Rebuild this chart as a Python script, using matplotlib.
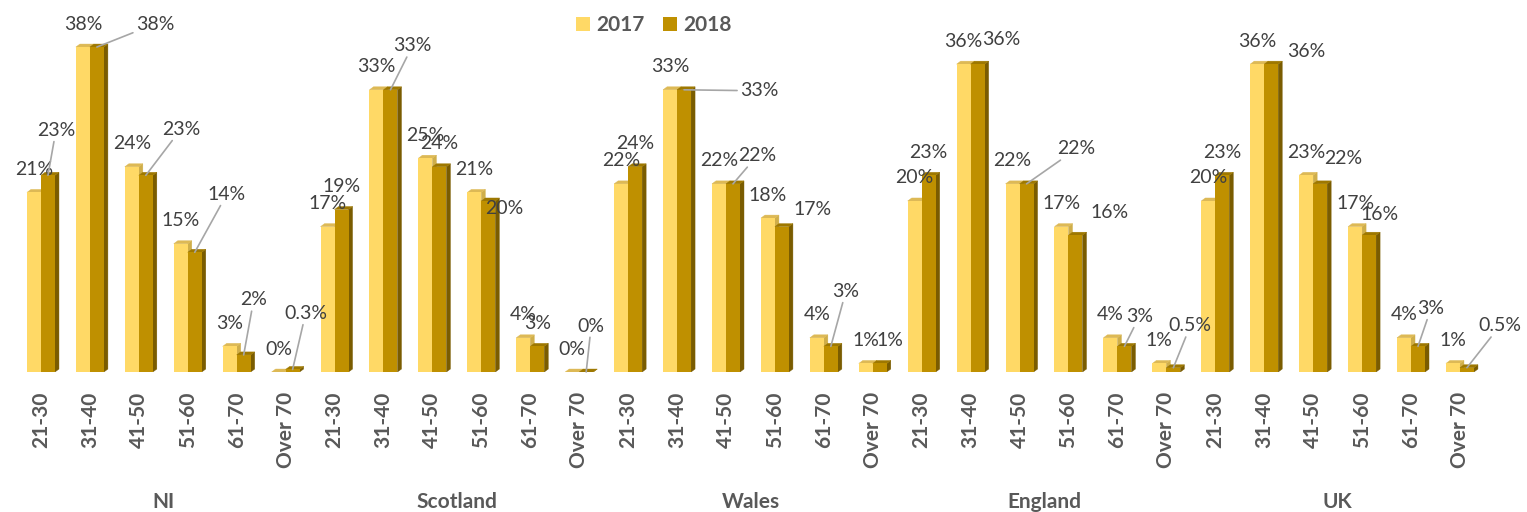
import matplotlib.pyplot as plt
from matplotlib.patches import Polygon, Patch
import numpy as np

plt.rcParams['font.family'] = ['Lato', 'DejaVu Sans']

groups = ["NI", "Scotland", "Wales", "England", "UK"]
ages = ["21-30", "31-40", "41-50", "51-60", "61-70", "Over 70"]

# share of respondents (%) per age band, groups in the order above
pct_2017 = [21, 38, 24, 15, 3, 0,
            17, 33, 25, 21, 4, 0,
            22, 33, 22, 18, 4, 1,
            20, 36, 22, 17, 4, 1,
            20, 36, 23, 17, 4, 1]
pct_2018 = [23, 38, 23, 14, 2, 0.3,
            19, 33, 24, 20, 3, 0,
            24, 33, 22, 17, 3, 1,
            23, 36, 22, 16, 3, 0.5,
            23, 36, 22, 16, 3, 0.5]

# where excel pushed the 2018 labels away from the default spot:
# index -> (px right, px up, leader line)
nudge_2018 = {
    0: (8, 22, True), 1: (58, 0, True), 2: (35, 23, True), 3: (32, 35, True),
    4: (10, 32, True), 5: (13, 33, True), 7: (22, 21, True), 9: (16, -31, False),
    11: (5, 23, True), 13: (75, -24, True), 14: (24, 5, True), 15: (31, -6, False),
    16: (15, 32, True), 17: (10, 0, False), 19: (24, 2, False), 20: (50, 12, True),
    21: (34, 0, False), 22: (15, 7, True), 23: (17, 19, True), 25: (35, -10, False),
    26: (23, 2, False), 27: (10, -2, False), 28: (13, 15, True), 29: (33, 19, True),
}

# colours: front, top, side
c17 = ('#FFD966', '#DDB955', '#CFAE4A')
c18 = ('#BF9000', '#9E7800', '#7A5C00')

W = 0.286      # one bar, in category units
DX = 0.082     # 3d depth to the right
DY = 0.35      # 3d depth upwards (in %)
PX = 0.72      # pixels -> points at dpi 100

fig = plt.figure(figsize=(15.27, 5.12), dpi=100)
ax = fig.add_axes([0.0108, 0.2734, 0.9613, 0.7266])

x = np.arange(len(pct_2017))


def depth(ax, lefts, heights, top, side, z):
    for x0, h in zip(lefts, heights):
        r = x0 + W
        ax.add_patch(Polygon([(r, 0), (r + DX, DY), (r + DX, h + DY), (r, h)],
                             facecolor=side, edgecolor=side, lw=0.3, zorder=z))
        ax.add_patch(Polygon([(x0, h), (x0 + DX, h + DY), (r + DX, h + DY), (r, h)],
                             facecolor=top, edgecolor=top, lw=0.3, zorder=z))


depth(ax, x - W, pct_2017, c17[1], c17[2], 1)
ax.bar(x - W, pct_2017, W, align='edge', color=c17[0], zorder=2)
depth(ax, x, pct_2018, c18[1], c18[2], 3)
ax.bar(x, pct_2018, W, align='edge', color=c18[0], zorder=4)

# data labels
for i in x:
    ax.annotate(f"{pct_2017[i]:g}%", (i - W / 2, pct_2017[i]),
                xytext=(0, 23 * PX), textcoords='offset points',
                ha='center', va='center', fontsize=14, color='#404040',
                annotation_clip=False, zorder=6)
    dx, dy, leader = nudge_2018.get(i, (0, 0, False))
    arrow = dict(arrowstyle='-', color='#A6A6A6', lw=1.2, shrinkA=0, shrinkB=0) if leader else None
    ax.annotate(f"{pct_2018[i]:g}%", (i + W / 2, pct_2018[i]),
                xytext=(dx * PX, (23 + dy) * PX), textcoords='offset points',
                ha='center', va='center', fontsize=14, color='#404040',
                arrowprops=arrow, annotation_clip=False, zorder=6)

ax.set_xlim(-0.5, len(x) - 0.5)
ax.set_ylim(0, 43.5)
ax.set_xticks(x)
ax.set_xticklabels(ages * len(groups), rotation=90, fontsize=15,
                   fontweight='bold', color='#595959')
ax.tick_params(axis='x', length=0, pad=14)
ax.set_yticks([])
for s in ax.spines.values():
    s.set_visible(False)

# region names under each block of six
for g, name in enumerate(groups):
    ax.text(g * 6 + 2.5, -0.3497, name, transform=ax.get_xaxis_transform(),
            ha='center', va='center', fontsize=15, fontweight='bold', color='#595959')

handles = [Patch(facecolor=c17[0]), Patch(facecolor=c18[0])]
leg = fig.legend(handles, ['2017', '2018'], loc='center', bbox_to_anchor=(0.4283, 0.951),
                 ncol=2, frameon=False, handlelength=0.67, handleheight=0.67,
                 handletextpad=0.3, columnspacing=0.9,
                 prop={'size': 15, 'weight': 'bold'})
for t in leg.get_texts():
    t.set_color('#595959')

plt.savefig("out.png", dpi=100)
